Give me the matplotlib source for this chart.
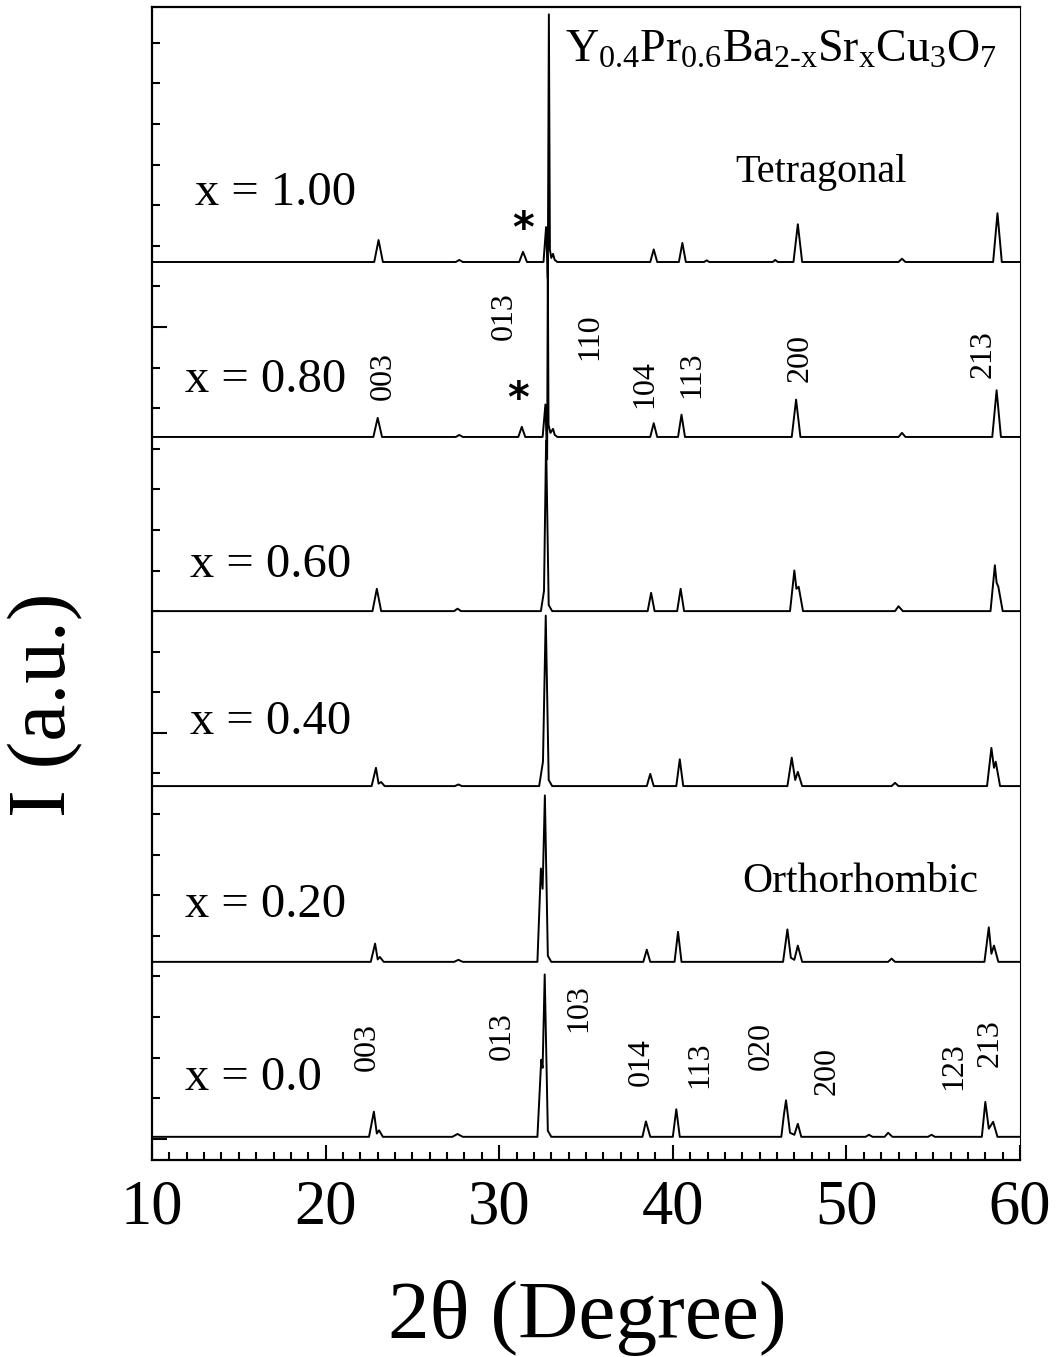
import matplotlib
matplotlib.use("Agg")
import matplotlib.pyplot as plt
from matplotlib.ticker import MultipleLocator

plt.rcParams['font.family'] = 'serif'
plt.rcParams['font.serif'] = ['Liberation Serif', 'DejaVu Serif']
plt.rcParams['mathtext.fontset'] = 'custom'
plt.rcParams['mathtext.rm'] = 'Liberation Serif'
plt.rcParams['mathtext.it'] = 'Liberation Serif:italic'

# XRD traces (2theta, intensity above own baseline)
tth_00 = [10.0, 22.5, 22.78, 22.95, 23.08, 23.3, 27.3, 27.6, 27.9,
          32.2, 32.42, 32.5, 32.62, 32.8, 33.0, 38.25, 38.45, 38.7, 40.0, 40.2, 40.4,
          46.25, 46.4, 46.52, 46.75, 47.0, 47.2, 47.4, 51.1, 51.3, 51.5, 52.2, 52.4, 52.65,
          54.7, 54.9, 55.1, 57.8, 58.0, 58.2, 58.45, 58.7, 60.0]
I_00 = [0.0, 0.0, 0.62, 0.08, 0.16, 0.0, 0.0, 0.07, 0.0,
        0.0, 1.9, 1.7, 4.0, 0.15, 0.0, 0.0, 0.38, 0.0, 0.0, 0.68, 0.0,
        0.0, 0.55, 0.9, 0.1, 0.05, 0.32, 0.0, 0.0, 0.05, 0.0, 0.0, 0.1, 0.0,
        0.0, 0.05, 0.0, 0.0, 0.86, 0.2, 0.37, 0.0, 0.0]

tth_02 = [10.0, 22.6, 22.85, 23.0, 23.12, 23.35, 27.4, 27.65, 27.9,
          32.2, 32.4, 32.5, 32.63, 32.8, 33.0, 38.3, 38.5, 38.7, 40.1, 40.3, 40.5,
          46.35, 46.6, 46.8, 47.0, 47.2, 47.45, 52.4, 52.6, 52.8,
          57.95, 58.2, 58.35, 58.5, 58.75, 60.0]
I_02 = [0.0, 0.0, 0.45, 0.06, 0.12, 0.0, 0.0, 0.05, 0.0,
        0.0, 2.3, 1.8, 4.1, 0.15, 0.0, 0.0, 0.3, 0.0, 0.0, 0.74, 0.0,
        0.0, 0.8, 0.1, 0.05, 0.4, 0.0, 0.0, 0.08, 0.0,
        0.0, 0.85, 0.2, 0.4, 0.0, 0.0]

tth_04 = [10.0, 22.65, 22.9, 23.05, 23.2, 23.4, 27.45, 27.65, 27.85,
          32.3, 32.52, 32.68, 32.85, 33.05, 38.5, 38.7, 38.9, 40.2, 40.4, 40.6,
          46.6, 46.85, 47.05, 47.2, 47.45, 52.6, 52.8, 53.0,
          58.1, 58.35, 58.5, 58.6, 58.85, 60.0]
I_04 = [0.0, 0.0, 0.45, 0.06, 0.1, 0.0, 0.0, 0.04, 0.0,
        0.0, 0.6, 4.2, 0.15, 0.0, 0.0, 0.3, 0.0, 0.0, 0.66, 0.0,
        0.0, 0.7, 0.15, 0.35, 0.0, 0.0, 0.08, 0.0,
        0.0, 0.94, 0.45, 0.6, 0.0, 0.0]

tth_06 = [10.0, 22.7, 22.95, 23.2, 27.4, 27.6, 27.8,
          32.4, 32.58, 32.7, 32.85, 33.05, 38.55, 38.75, 38.95, 40.25, 40.45, 40.65,
          46.75, 47.0, 47.12, 47.25, 47.5, 52.8, 53.0, 53.25,
          58.3, 58.55, 58.65, 58.75, 59.0, 60.0]
I_06 = [0.0, 0.0, 0.55, 0.0, 0.0, 0.06, 0.0,
        0.0, 0.5, 4.2, 0.15, 0.0, 0.0, 0.45, 0.0, 0.0, 0.55, 0.0,
        0.0, 1.0, 0.55, 0.6, 0.0, 0.0, 0.12, 0.0,
        0.0, 1.13, 0.7, 0.6, 0.0, 0.0]

tth_08 = [10.0, 22.75, 23.0, 23.25, 27.5, 27.7, 27.9, 31.1, 31.3, 31.5,
          32.5, 32.66, 32.76, 32.8, 32.84, 32.95, 33.1, 33.2, 33.35,
          38.7, 38.9, 39.1, 40.3, 40.5, 40.7, 46.85, 47.1, 47.35,
          53.0, 53.2, 53.4, 58.4, 58.65, 58.9, 60.0]
I_08 = [0.0, 0.0, 0.47, 0.0, 0.0, 0.05, 0.0, 0.0, 0.25, 0.0,
        0.0, 0.8, -0.55, 4.2, 0.3, 0.1, 0.2, 0.05, 0.0,
        0.0, 0.34, 0.0, 0.0, 0.55, 0.0, 0.0, 0.92, 0.0,
        0.0, 0.1, 0.0, 0.0, 1.15, 0.0, 0.0]

tth_10 = [10.0, 22.8, 23.05, 23.3, 27.5, 27.7, 27.9, 31.15, 31.37, 31.6,
          32.55, 32.7, 32.8, 32.86, 32.92, 33.0, 33.1, 33.2, 33.35,
          38.7, 38.9, 39.1, 40.35, 40.55, 40.75, 41.8, 41.95, 42.1,
          45.75, 45.9, 46.05, 46.95, 47.2, 47.45, 53.0, 53.2, 53.4,
          58.45, 58.7, 58.95, 60.0]
I_10 = [0.0, 0.0, 0.54, 0.0, 0.0, 0.05, 0.0, 0.0, 0.25, 0.0,
        0.0, 0.86, -0.4, 6.1, 0.3, 0.1, 0.2, 0.05, 0.0,
        0.0, 0.31, 0.0, 0.0, 0.47, 0.0, 0.0, 0.04, 0.0,
        0.0, 0.05, 0.0, 0.0, 0.93, 0.0, 0.0, 0.08, 0.0,
        0.0, 1.2, 0.0, 0.0]

traces = [(tth_00, I_00), (tth_02, I_02), (tth_04, I_04),
          (tth_06, I_06), (tth_08, I_08), (tth_10, I_10)]
offsets = [0.05, 4.36, 8.69, 13.0, 17.29, 21.6]

sample_labels = ['x = 0.0', 'x = 0.20', 'x = 0.40', 'x = 0.60', 'x = 0.80', 'x = 1.00']
sample_xy = [(11.9, 1.5), (11.9, 5.76), (12.2, 10.27), (12.2, 14.14), (11.9, 18.7), (12.48, 23.3)]

# Miller indices, bottom trace (orthorhombic)
hkl_ortho = ['003', '013', '103', '014', '113', '020', '200', '123', '213']
hkl_ortho_xy = [(22.4, 1.66), (30.2, 1.95), (34.56, 2.64), (38.2, 1.31), (41.56, 1.26),
                (45.1, 1.7), (48.9, 1.08), (56.2, 1.2), (58.3, 1.77)]
# Miller indices, x = 0.80 trace (tetragonal)
hkl_tetra = ['003', '013', '110', '104', '113', '200', '213']
hkl_tetra_xy = [(23.3, 18.2), (30.3, 19.68), (35.23, 19.19), (38.4, 18.0), (41.1, 18.25),
                (47.33, 18.65), (57.87, 18.74)]
star_xy = [(31.1, 18.2), (31.35, 22.4)]

fig = plt.figure(figsize=(10.6, 13.57), dpi=100)
ax = fig.add_axes([0.1434, 0.1452, 0.8189, 0.8496])

for (tth, inten), off in zip(traces, offsets):
    ax.plot(tth, [v + off for v in inten], color='black', lw=1.4)

for lab, (x, y) in zip(sample_labels, sample_xy):
    ax.text(x, y, lab, fontsize=35, ha='left', va='center')

for lab, (x, y) in zip(hkl_ortho, hkl_ortho_xy):
    ax.text(x, y, lab, fontsize=23, rotation=90, ha='center', va='bottom')
for lab, (x, y) in zip(hkl_tetra, hkl_tetra_xy):
    ax.text(x, y, lab, fontsize=23, rotation=90, ha='center', va='bottom')
for x, y in star_xy:
    ax.text(x, y, '*', fontsize=30, fontweight='bold', family='DejaVu Sans',
            ha='center', va='center')

ax.text(33.8, 26.8, r'$\mathrm{Y_{0.4}Pr_{0.6}Ba_{2\text{-}x}Sr_{x}Cu_{3}O_{7}}$',
        fontsize=33, ha='left', va='center')
ax.text(43.6, 23.8, 'Tetragonal', fontsize=29, ha='left', va='center')
ax.text(44.0, 6.33, 'Orthorhombic', fontsize=30, ha='left', va='center')

ax.set_xlim(10, 60)
ax.set_ylim(-0.52, 27.88)
ax.xaxis.set_major_locator(MultipleLocator(10))
ax.xaxis.set_minor_locator(MultipleLocator(1))
ax.yaxis.set_major_locator(MultipleLocator(10))
ax.yaxis.set_minor_locator(MultipleLocator(1))
ax.tick_params(which='both', direction='in', top=False, right=False, width=1.5)
ax.tick_params(which='major', length=11)
ax.tick_params(which='minor', length=6)
ax.tick_params(axis='x', labelsize=45, pad=14)
ax.tick_params(axis='y', labelleft=False)
for side in ['left', 'bottom', 'top']:
    ax.spines[side].set_linewidth(1.6)
ax.spines['right'].set_linewidth(0.8)

ax.set_xlabel('2θ (Degree)', fontsize=60, va='center')
ax.xaxis.set_label_coords(0.502, -0.137)
ax.set_ylabel('I (a.u.)', fontsize=60, va='center')
ax.yaxis.set_label_coords(-0.123, 0.395)

fig.savefig('out.png', dpi=100)
